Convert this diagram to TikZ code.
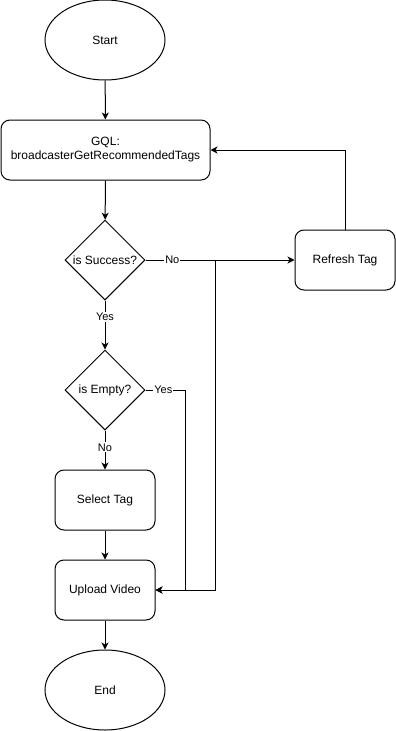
\documentclass[tikz,border=0pt]{standalone}
\usepackage{fontspec}
\setmainfont{Liberation Sans}
\usetikzlibrary{shapes.geometric,arrows.meta}
\begin{document}
\begin{tikzpicture}[x=1pt,y=-1pt,line width=1pt,
  every node/.style={font=\fontsize{12}{14}\selectfont},
  terminal/.style={draw,ellipse,minimum width=120pt,minimum height=80pt,inner sep=0pt},
  process/.style={draw,rectangle,rounded corners=9pt,minimum width=100pt,minimum height=60pt,inner sep=0pt,align=center},
  decision/.style={draw,diamond,shape aspect=1,minimum width=80pt,minimum height=80pt,inner sep=0pt},
  flow/.style={draw,-{Stealth[length=7pt,width=7pt,inset=2pt]}},
  edgelabel/.style={fill=white,inner sep=1pt,font=\fontsize{11}{13}\selectfont}
]
\useasboundingbox (0,0) rectangle (396,731);

% nodes
\node[terminal] (start) at (105,40) {Start};
\node[process,minimum width=209pt] (gql) at (105.5,150) {GQL:\\broadcasterGetRecommendedTags};
\node[decision] (succ) at (105,260) {is Success?};
\node[process] (refresh) at (345,260) {Refresh Tag};
\node[decision] (empty) at (105,390) {is Empty?};
\node[process] (select) at (105,500) {Select Tag};
\node[process] (upload) at (105,590) {Upload Video};
\node[terminal] (end) at (105,690) {End};

% junction points of the merged branches
\coordinate (jfail) at (215,260);
\coordinate (jempty) at (185,390);

% connectors
\draw[flow] (start) -- (gql);
\draw[flow] (gql) -- (succ);
\draw[flow] (succ.east) -- node[edgelabel,pos=0.18] {No} (refresh.west);
\draw[flow] (refresh.north) |- (gql.east);
\draw[flow] (jfail) |- (upload.east);
\draw[flow] (succ.south) -- node[edgelabel,pos=0.34] {Yes} (empty.north);
\draw[flow] (empty.east) -- node[edgelabel,pos=0.45] {Yes} (jempty) |- (upload.east);
\draw[flow] (empty.south) -- node[edgelabel,pos=0.43] {No} (select.north);
\draw[flow] (select) -- (upload);
\draw[flow] (upload) -- (end);
\end{tikzpicture}
\end{document}
